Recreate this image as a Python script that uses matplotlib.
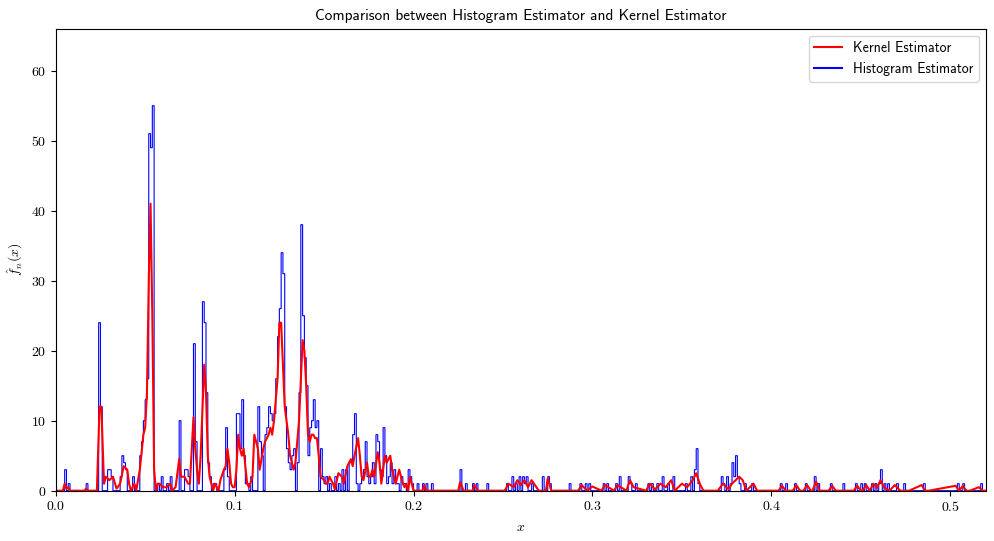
import matplotlib
matplotlib.use('Agg')
import matplotlib.pyplot as plt
import numpy as np
from matplotlib.lines import Line2D

# Histogram bins (left edge, in units of 0.001) with non-zero counts
hist_bins = [5, 7, 17, 24, 25, 29, 30, 31, 36, 37, 38, 39, 43,
             47, 48, 49, 50, 51, 52, 53, 54, 57, 59, 62, 64, 69, 72, 73, 74,
             77, 78, 82, 83, 84, 85, 86, 88, 89, 94, 95, 96, 101, 102, 103, 104, 105,
             106, 107, 109, 113, 114, 115, 117, 118, 119, 120, 121, 122, 123, 124, 125, 126, 127,
             128, 129, 130, 131, 132, 133, 135, 136, 137, 138, 139, 140, 141, 142, 143, 144, 145, 146,
             148, 149, 150, 151, 153, 156, 158, 160, 162, 164, 165, 166, 167, 168,
             170, 171, 172, 173, 174, 175, 176, 177, 178, 179, 180, 181, 182, 183,
             184, 185, 186, 187, 188, 189, 190, 191, 193, 194, 195, 197, 198, 199,
             202, 205, 207, 210, 226, 229, 233, 235, 241, 252, 255, 257, 259, 261, 262, 263,
             266, 272, 275, 276, 287, 293, 296, 298, 306, 308, 313, 315, 320, 321, 324, 331,
             333, 336, 339, 342, 345, 352, 355, 357, 358, 359, 372, 373, 375, 377, 378, 379,
             380, 381, 382, 385, 389, 405, 408, 413, 419, 424, 426, 433, 440, 447, 450, 452,
             456, 458, 460, 461, 463, 465, 470, 474, 485, 504, 507, 517]
hist_counts = [3, 1, 1, 24, 12, 3, 3, 2, 2, 5, 4, 3, 2,
               5, 7, 10, 13, 16, 51, 49, 55, 1, 2, 1, 2, 10, 3, 3, 2,
               21, 7, 27, 24, 14, 4, 2, 1, 1, 3, 9, 2, 11, 11, 6, 13, 5,
               1, 1, 2, 12, 7, 5, 8, 9, 12, 11, 10, 11, 16, 22, 26, 34, 31,
               12, 6, 4, 3, 5, 6, 4, 14, 38, 25, 19, 15, 5, 9, 10, 13, 9, 10,
               6, 2, 1, 2, 1, 2, 1, 3, 3, 4, 4, 8, 11, 1,
               1, 2, 3, 7, 2, 1, 2, 4, 1, 8, 7, 3, 2, 9,
               5, 1, 2, 4, 1, 3, 1, 1, 2, 1, 1, 3, 2, 1,
               1, 1, 1, 1, 3, 1, 1, 1, 1, 1, 2, 1, 2, 2, 1, 2,
               1, 2, 2, 1, 1, 1, 1, 1, 1, 1, 1, 2, 2, 1, 1, 1,
               1, 1, 2, 1, 2, 1, 2, 3, 6, 1, 2, 1, 2, 1, 4, 2,
               5, 2, 1, 1, 1, 1, 1, 1, 1, 2, 1, 1, 1, 1, 1, 1,
               1, 1, 1, 3, 1, 1, 1, 1, 1, 1, 1, 1]

# Kernel estimate sampled along x
kde_x = [0, 0.004, 0.005, 0.006, 0.007, 0.008, 0.016, 0.017, 0.018, 0.023, 0.0245, 0.0255, 0.027,
         0.028, 0.030, 0.032, 0.034, 0.036, 0.038, 0.040, 0.041, 0.042, 0.044, 0.045, 0.047, 0.049,
         0.050, 0.051, 0.052, 0.053, 0.054, 0.055, 0.056, 0.057, 0.058, 0.060, 0.062, 0.064, 0.065,
         0.067, 0.069, 0.070, 0.072, 0.074, 0.075, 0.077, 0.078, 0.079, 0.080, 0.081, 0.083, 0.084,
         0.085, 0.086, 0.088, 0.089, 0.091, 0.092, 0.094, 0.095, 0.096, 0.097, 0.098, 0.099, 0.100,
         0.101, 0.102, 0.103, 0.104, 0.105, 0.107, 0.108, 0.110, 0.111, 0.113, 0.114, 0.116, 0.117,
         0.119, 0.120, 0.121, 0.122, 0.124, 0.125, 0.126, 0.127, 0.128, 0.130, 0.131, 0.133, 0.134,
         0.136, 0.138, 0.139, 0.140, 0.141, 0.142, 0.143, 0.144, 0.145, 0.146, 0.147, 0.148, 0.150,
         0.151, 0.152, 0.153, 0.155, 0.156, 0.158, 0.160, 0.161, 0.163, 0.165, 0.166, 0.167, 0.169,
         0.170, 0.171, 0.172, 0.174, 0.175, 0.176, 0.177, 0.178, 0.180, 0.181, 0.182, 0.184, 0.185,
         0.187, 0.188, 0.190, 0.192, 0.193, 0.194, 0.195, 0.196, 0.197, 0.198, 0.199, 0.200, 0.205,
         0.206, 0.207, 0.225, 0.226, 0.228, 0.233, 0.234, 0.236, 0.251, 0.253, 0.256, 0.258, 0.260,
         0.262, 0.264, 0.266, 0.270, 0.274, 0.275, 0.277, 0.292, 0.294, 0.297, 0.300, 0.305, 0.307,
         0.312, 0.314, 0.319, 0.321, 0.323, 0.330, 0.332, 0.335, 0.338, 0.341, 0.344, 0.346, 0.350,
         0.353, 0.356, 0.358, 0.360, 0.362, 0.370, 0.373, 0.376, 0.378, 0.380, 0.382, 0.384, 0.386,
         0.390, 0.392, 0.404, 0.406, 0.408, 0.412, 0.414, 0.416, 0.418, 0.420, 0.422, 0.423, 0.425,
         0.427, 0.432, 0.434, 0.436, 0.446, 0.448, 0.450, 0.451, 0.453, 0.455, 0.457, 0.459, 0.461,
         0.463, 0.466, 0.469, 0.472, 0.475, 0.477, 0.484, 0.486, 0.488, 0.503, 0.505, 0.507, 0.509,
         0.511, 0.516, 0.518, 0.52]
kde_y = [0, 0, 1, 0.3, 0.5, 0, 0, 0.3, 0, 0, 12, 12, 1,
         2, 1.5, 2, 0.3, 1, 3.5, 3, 1, 0, 1, 0, 3, 8,
         9, 14, 30, 41, 25, 3, 0, 1, 1, 0.5, 0.5, 1, 0,
         0.5, 4.5, 2, 2, 1, 1, 10.5, 6, 3, 1, 5, 18, 14,
         5, 2, 0, 1, 0, 1.5, 3, 3.5, 6, 4, 1, 0.5, 0.5,
         3, 8, 6, 5, 6, 1, 0.5, 2, 8, 6, 3, 6, 7,
         8, 9, 8, 10, 16, 24, 24, 18, 12, 8, 5, 3, 4,
         10, 21.5, 20, 15, 8, 7, 8, 8, 7.5, 7.5, 5, 2, 1.5,
         1, 1, 2, 1, 0.2, 2.5, 2, 1, 3.5, 4.5, 3.5, 5, 7.5,
         5, 2, 1.5, 4, 2, 2, 3, 2, 5.5, 4, 1, 5, 4,
         5, 3, 1, 3, 2, 1, 0.5, 1, 0, 2, 1, 0, 0,
         0.8, 0, 0, 1.2, 0, 0, 0.8, 0, 0, 1, 0.5, 1.5, 0.8,
         1.5, 0.5, 1.5, 0, 0, 1.8, 0, 0, 0.8, 0, 0.6, 0, 0.8,
         0, 0.8, 0, 1.5, 0.5, 0, 1, 0.2, 1, 0.5, 1.5, 0, 1,
         0.5, 1.5, 2.5, 1, 0, 0, 1, 0.2, 1, 1.5, 2, 1.5, 0,
         1, 0, 0, 0.7, 0, 0, 0.8, 0, 0, 0.8, 0, 0, 1.3,
         0, 0, 0.7, 0, 0, 0.7, 0, 0, 0.8, 0, 1, 0.4, 1.5,
         0.5, 0, 0.8, 0, 0, 0, 0.8, 0, 0, 0.7, 0, 0.7, 0,
         0, 0.5, 0, 0]

bin_w = 0.001
edges = np.round(np.arange(0, 0.521 + bin_w / 2, bin_w), 6)
counts = np.zeros(len(edges) - 1)
for b, c in zip(hist_bins, hist_counts):
    counts[b] = c

plt.rcParams['mathtext.fontset'] = 'cm'
plt.rcParams['font.family'] = 'cmss10'
plt.rcParams['axes.formatter.use_mathtext'] = True
plt.rcParams['axes.unicode_minus'] = False

fig, ax = plt.subplots(figsize=(9.95, 5.41), dpi=100)
ax.stairs(counts, edges, color='blue', linewidth=0.8, label='Histogram Estimator')
ax.plot(kde_x, kde_y, color='red', linewidth=1.5, label='Kernel Estimator')

ax.set_xlim(0, 0.52)
ax.set_ylim(0, 66)
for lab in ax.get_xticklabels() + ax.get_yticklabels():
    lab.set_fontfamily('cmr10')
ax.set_xlabel('$x$')
ax.set_ylabel(r'$\hat{f}_n(x)$')
ax.set_title('Comparison between Histogram Estimator and Kernel Estimator', fontsize=11)

handles = [Line2D([], [], color='red', lw=1.5), Line2D([], [], color='blue', lw=1.5)]
ax.legend(handles, ['Kernel Estimator', 'Histogram Estimator'], loc='upper right')

fig.subplots_adjust(left=0.056, right=0.991, top=0.947, bottom=0.093)
fig.savefig('out.png', dpi=100)
